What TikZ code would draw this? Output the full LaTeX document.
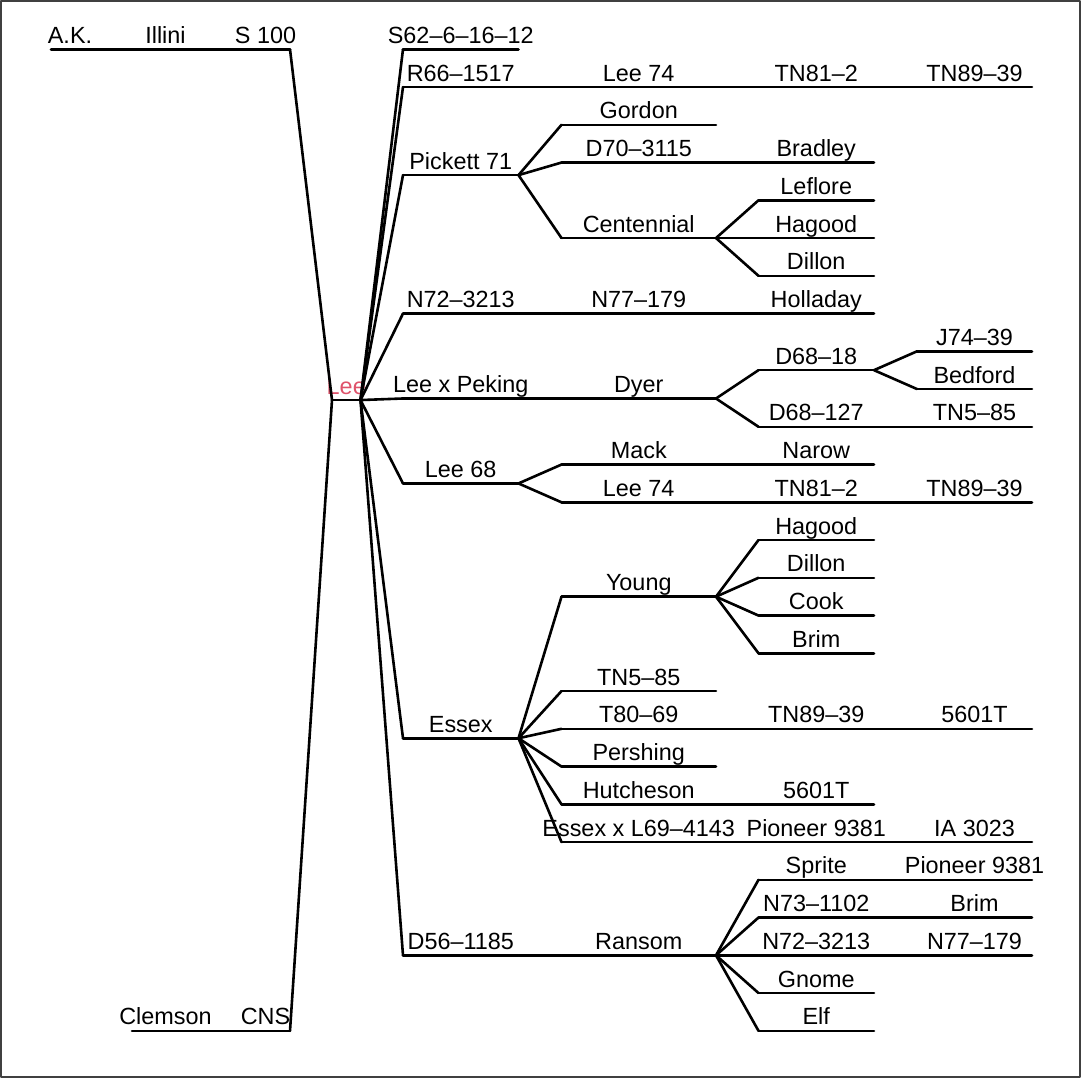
\documentclass[tikz,border=0pt]{standalone}
\usepackage{xcolor}
\usepackage{fontspec}
\setmainfont{Liberation Sans}
\usepackage{tikz}
\definecolor{leered}{HTML}{DF536B}

\begin{document}
\begin{tikzpicture}[x = 0.5pt, y = -18.875pt, line width = 1.3pt, line cap = round, line join = round, label distance = 2.5pt]
\tikzstyle{every node} = [font = \fontsize{11.7}{14}\selectfont, inner sep = 0pt, outer sep = 0pt]
\tikzstyle{every label} = [text depth = 0pt]
\tikzstyle{anc3} = [minimum width = 19pt]
\tikzstyle{anc2} = [minimum width = 33.5pt]
\tikzstyle{anc1} = [minimum width = 24.5pt]
\tikzstyle{root} = [minimum width = 14.25pt]
\tikzstyle{gen1} = [minimum width = 57.75pt]
\tikzstyle{gen2} = [minimum width = 77.25pt]
\tikzstyle{gen3} = [minimum width = 57.75pt]
\tikzstyle{gen4} = [minimum width = 57.5pt]
\tikzstyle{frame} = [draw = black!75, line width = 1.2pt, line cap = butt]

	\useasboundingbox (0,-0.306) rectangle (1081,28.25);
	\draw[frame] (1.2,-0.274) rectangle (1079.8,28.218);

	% parents of Lee
	\node[anc3, label = A.K.] (ak) at (70,1) {};
	\node[anc2, label = Illini] (illini) at (165.5,1) {};
	\node[anc1, label = S 100] (s100) at (265.5,1) {};
	\node[anc2, label = Clemson] (clemson) at (165.5,27) {};
	\node[anc1, label = CNS] (cns) at (265.5,27) {};
	\node[root, label = {[text = leered]Lee}] (lee) at (346.25,10.2917) {};

	% first generation
	\node[gen1, label = S62–6–16–12] (s62) at (460.75,1) {};
	\node[gen1, label = R66–1517] (r66) at (460.75,2) {};
	\node[gen1, label = Pickett 71] (pickett) at (460.75,4.3333) {};
	\node[gen1, label = N72–3213] (n72a) at (460.75,8) {};
	\node[gen1, label = Lee x Peking] (leepek) at (460.75,10.25) {};
	\node[gen1, label = Lee 68] (lee68) at (460.75,12.5) {};
	\node[gen1, label = Essex] (essex) at (460.75,19.25) {};
	\node[gen1, label = D56–1185] (d56) at (460.75,25) {};

	% second generation
	\node[gen2, label = Lee 74] (lee74a) at (638.75,2) {};
	\node[gen2, label = Gordon] (gordon) at (638.75,3) {};
	\node[gen2, label = D70–3115] (d70) at (638.75,4) {};
	\node[gen2, label = Centennial] (centennial) at (638.75,6) {};
	\node[gen2, label = N77–179] (n77a) at (638.75,8) {};
	\node[gen2, label = Dyer] (dyer) at (638.75,10.25) {};
	\node[gen2, label = Mack] (mack) at (638.75,12) {};
	\node[gen2, label = Lee 74] (lee74b) at (638.75,13) {};
	\node[gen2, label = Young] (young) at (638.75,15.5) {};
	\node[gen2, label = TN5–85] (tn585a) at (638.75,18) {};
	\node[gen2, label = T80–69] (t80) at (638.75,19) {};
	\node[gen2, label = Pershing] (pershing) at (638.75,20) {};
	\node[gen2, label = Hutcheson] (hutcheson) at (638.75,21) {};
	\node[gen2, label = Essex x L69–4143] (essexl69) at (638.75,22) {};
	\node[gen2, label = Ransom] (ransom) at (638.75,25) {};

	% third generation
	\node[gen3, label = TN81–2] (tn812a) at (816.25,2) {};
	\node[gen3, label = Bradley] (bradley) at (816.25,4) {};
	\node[gen3, label = Leflore] (leflore) at (816.25,5) {};
	\node[gen3, label = Hagood] (hagooda) at (816.25,6) {};
	\node[gen3, label = Dillon] (dillona) at (816.25,7) {};
	\node[gen3, label = Holladay] (holladay) at (816.25,8) {};
	\node[gen3, label = D68–18] (d6818) at (816.25,9.5) {};
	\node[gen3, label = D68–127] (d68127) at (816.25,11) {};
	\node[gen3, label = Narow] (narow) at (816.25,12) {};
	\node[gen3, label = TN81–2] (tn812b) at (816.25,13) {};
	\node[gen3, label = Hagood] (hagoodb) at (816.25,14) {};
	\node[gen3, label = Dillon] (dillonb) at (816.25,15) {};
	\node[gen3, label = Cook] (cook) at (816.25,16) {};
	\node[gen3, label = Brim] (brima) at (816.25,17) {};
	\node[gen3, label = TN89–39] (tn8939c) at (816.25,19) {};
	\node[gen3, label = 5601T] (t5601a) at (816.25,21) {};
	\node[gen3, label = Pioneer 9381] (pioneera) at (816.25,22) {};
	\node[gen3, label = Sprite] (sprite) at (816.25,23) {};
	\node[gen3, label = N73–1102] (n73) at (816.25,24) {};
	\node[gen3, label = N72–3213] (n72b) at (816.25,25) {};
	\node[gen3, label = Gnome] (gnome) at (816.25,26) {};
	\node[gen3, label = Elf] (elf) at (816.25,27) {};

	% fourth generation
	\node[gen4, label = TN89–39] (tn8939a) at (974.5,2) {};
	\node[gen4, label = J74–39] (j74) at (974.5,9) {};
	\node[gen4, label = Bedford] (bedford) at (974.5,10) {};
	\node[gen4, label = TN5–85] (tn585b) at (974.5,11) {};
	\node[gen4, label = TN89–39] (tn8939b) at (974.5,13) {};
	\node[gen4, label = 5601T] (t5601b) at (974.5,19) {};
	\node[gen4, label = IA 3023] (ia3023) at (974.5,22) {};
	\node[gen4, label = Pioneer 9381] (pioneerb) at (974.5,23) {};
	\node[gen4, label = Brim] (brimb) at (974.5,24) {};
	\node[gen4, label = N77–179] (n77b) at (974.5,25) {};

	\foreach \n in {ak, illini, s100, clemson, cns, lee,
		s62, r66, pickett, n72a, leepek, lee68, essex, d56,
		lee74a, gordon, d70, centennial, n77a, dyer, mack, lee74b, young, tn585a, t80, pershing, hutcheson, essexl69, ransom,
		tn812a, bradley, leflore, hagooda, dillona, holladay, d6818, d68127, narow, tn812b, hagoodb, dillonb, cook, brima, tn8939c, t5601a, pioneera, sprite, n73, n72b, gnome, elf,
		tn8939a, j74, bedford, tn585b, tn8939b, t5601b, ia3023, pioneerb, brimb, n77b}
		\draw (\n.west) -- (\n.east);

	\foreach \p/\c in {ak/illini, illini/s100, s100/lee, clemson/cns, cns/lee,
		lee/s62, lee/r66, lee/pickett, lee/n72a, lee/leepek, lee/lee68, lee/essex, lee/d56,
		r66/lee74a, lee74a/tn812a, tn812a/tn8939a,
		pickett/gordon, pickett/d70, pickett/centennial, d70/bradley,
		centennial/leflore, centennial/hagooda, centennial/dillona,
		n72a/n77a, n77a/holladay,
		leepek/dyer, dyer/d6818, dyer/d68127, d6818/j74, d6818/bedford, d68127/tn585b,
		lee68/mack, lee68/lee74b, mack/narow, lee74b/tn812b, tn812b/tn8939b,
		essex/young, essex/tn585a, essex/t80, essex/pershing, essex/hutcheson, essex/essexl69,
		young/hagoodb, young/dillonb, young/cook, young/brima,
		t80/tn8939c, tn8939c/t5601b, hutcheson/t5601a, essexl69/pioneera, pioneera/ia3023,
		d56/ransom, ransom/sprite, ransom/n73, ransom/n72b, ransom/gnome, ransom/elf,
		sprite/pioneerb, n73/brimb, n72b/n77b}
		\draw (\p.east) -- (\c.west);

\end{tikzpicture}
\end{document}
